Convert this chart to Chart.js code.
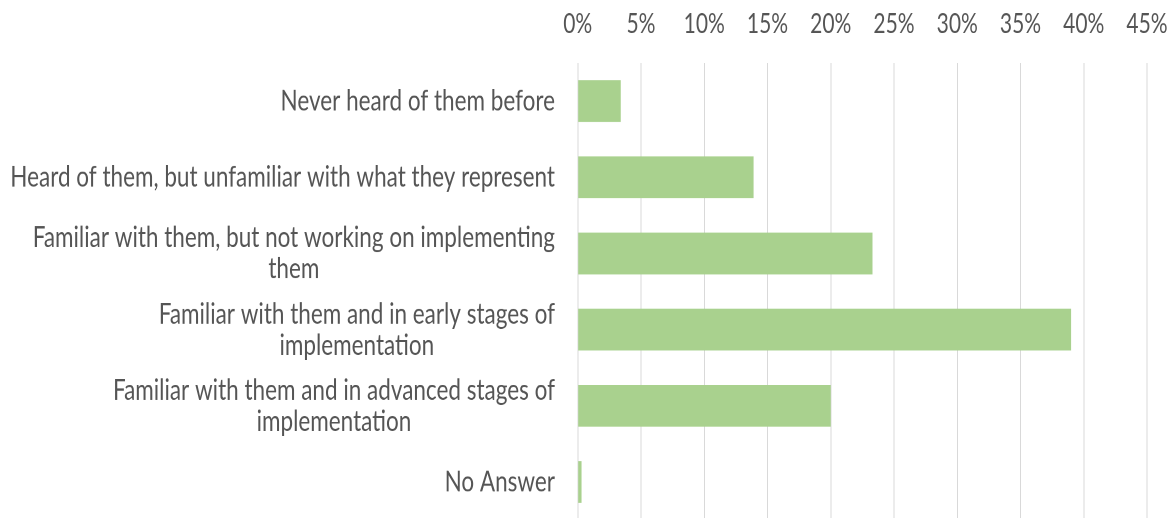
<!DOCTYPE html>
<html>
<head>
<meta charset="utf-8">
<script src="https://cdn.jsdelivr.net/npm/chart.js@4.4.1/dist/chart.umd.min.js"></script>
<style>
  html, body { margin: 0; padding: 0; background: #ffffff; overflow: hidden; }
  #wrap { position: absolute; left: 0; top: 0; width: 1176px; height: 400px; transform: scaleY(1.3); transform-origin: 0 0; }
</style>
</head>
<body>
<div id="wrap"><canvas id="c"></canvas></div>
<script>
const categories = [
  ["Never heard of them before"],
  ["Heard of them, but unfamiliar with what they represent"],
  ["Familiar with them, but not working on implementing", "them"],
  ["Familiar with them and in early stages of", "implementation"],
  ["Familiar with them and in advanced stages of", "implementation"],
  ["No Answer"]
];
const values = [3.4, 13.9, 23.3, 39.0, 20.0, 0.3];
const tickValues = [0, 5, 10, 15, 20, 25, 30, 35, 40, 45];
const tickLabels = ["0%", "5%", "10%", "15%", "20%", "25%", "30%", "35%", "40%", "45%"];

const FONT = "Lato, 'Open Sans', sans-serif";
const TEXT = "#555555";

const labelPlugin = {
  id: 'blockLabels',
  afterDraw(chart) {
    const ctx = chart.ctx;
    const y = chart.scales.y;
    ctx.save();
    ctx.font = "22.5px " + FONT;
    ctx.fillStyle = TEXT;
    ctx.textBaseline = 'middle';
    ctx.textAlign = 'center';
    const right = 555;
    const lh = 24;
    categories.forEach((lines, i) => {
      const cy = y.getPixelForTick(i);
      const w = Math.max(...lines.map(l => ctx.measureText(l).width));
      const cx = right - w / 2;
      const top = cy - (lines.length - 1) * lh / 2;
      lines.forEach((l, k) => ctx.fillText(l, cx, top + k * lh));
    });
    ctx.restore();
  }
};

new Chart(document.getElementById('c'), {
  type: 'bar',
  data: {
    labels: categories,
    datasets: [{
      data: values,
      backgroundColor: '#a9d18e',
      borderWidth: 0,
      categoryPercentage: 1.0,
      barPercentage: 0.55
    }]
  },
  options: {
    indexAxis: 'y',
    responsive: true,
    maintainAspectRatio: false,
    animation: false,
    devicePixelRatio: 2,
    layout: { padding: { left: 0, right: 29, top: 0, bottom: 0 } },
    plugins: { legend: { display: false }, tooltip: { enabled: false } },
    scales: {
      x: {
        position: 'top',
        min: 0,
        max: 45,
        afterBuildTicks(scale) { scale.ticks = tickValues.map(v => ({ value: v })); },
        afterFit(scale) { scale.height = 48.5; scale.paddingRight = 0; scale.paddingLeft = 0; },
        grid: { color: '#d9d9d9', lineWidth: 1, drawTicks: false },
        border: { display: false },
        ticks: {
          padding: 17,
          color: TEXT,
          font: { family: FONT, size: 21 },
          callback: (v, i) => tickLabels[i]
        }
      },
      y: {
        afterFit(scale) { scale.width = 577.75; },
        grid: { display: false },
        border: { display: false },
        ticks: { display: false }
      }
    }
  },
  plugins: [labelPlugin]
});
</script>
</body>
</html>
